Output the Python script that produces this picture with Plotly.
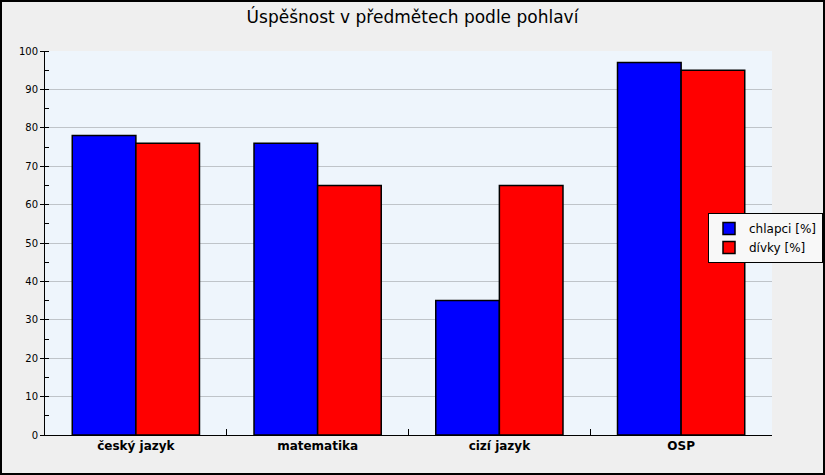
import plotly.graph_objects as go

# Data
subjects = ["český jazyk", "matematika", "cizí jazyk", "OSP"]
boys = [78, 76, 35, 97]
girls = [76, 65, 65, 95]

fig = go.Figure()

fig.add_trace(go.Bar(
    x=subjects, y=boys, name="chlapci [%]",
    marker=dict(color="#0000ff", line=dict(color="black", width=1.5)),
))
fig.add_trace(go.Bar(
    x=subjects, y=girls, name="dívky [%]",
    marker=dict(color="#ff0000", line=dict(color="black", width=1.5)),
))

fig.update_layout(
    width=825, height=475,
    title=dict(text="Úspěšnost v předmětech podle pohlaví", x=0.5, xanchor="center",
               y=0.965, yanchor="middle",
               font=dict(family="DejaVu Sans", size=17, color="black")),
    paper_bgcolor="#efefef",
    plot_bgcolor="#eef5fc",
    margin=dict(l=45, r=53, t=51, b=40, autoexpand=False),
    barmode="group",
    bargap=0.3,
    bargroupgap=0,
    font=dict(family="DejaVu Sans", color="black"),
    xaxis=dict(
        showline=True, linecolor="black", linewidth=1,
        ticks="inside", tickson="boundaries", ticklen=6, tickcolor="black",
        tickfont=dict(size=12, family="DejaVu Sans", weight="bold"),
        showgrid=False,
    ),
    yaxis=dict(
        range=[0, 100], dtick=10,
        showline=True, linecolor="black", linewidth=1,
        ticks="outside", ticklen=4, tickcolor="black",
        tickfont=dict(size=10),
        showgrid=True, gridcolor="#bfc4c9", gridwidth=1,
        minor=dict(dtick=5, ticks="inside", ticklen=4, tickcolor="black",
                   tickwidth=1, showgrid=False),
        zeroline=False,
    ),
    legend=dict(
        x=(708 - 45) / 727, y=(435 - 213) / 384, xanchor="left", yanchor="top",
        bgcolor="#f8f8f8", bordercolor="black", borderwidth=1,
        font=dict(size=12),
        tracegroupgap=0, itemwidth=30,
    ),
    shapes=[dict(type="rect", xref="paper", yref="paper", x0=-44/727, x1=1+52/727,
                 y0=-39/384, y1=1+50/384, line=dict(color="black", width=2))],
)

fig.write_html(
    "out.html",
    config=dict(displayModeBar=False, responsive=False),
    post_script=(
        "document.documentElement.style.overflow='hidden';"
        "document.body.style.overflow='hidden';"
        "document.body.style.margin='0';"
    ),
)
